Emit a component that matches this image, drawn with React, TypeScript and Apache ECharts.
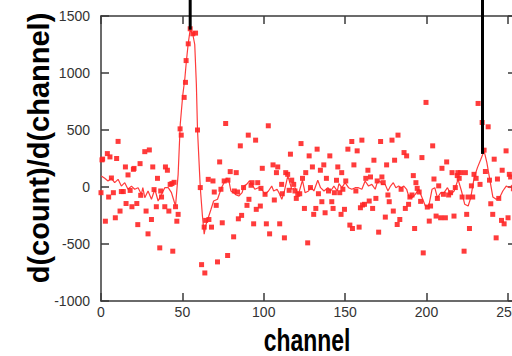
import React, { useEffect, useRef } from "react";
import * as echarts from "echarts";

const xTicks = { min: 0, max: 255, interval: 50 };
const yTicks = { min: -1000, max: 1500, interval: 500 };

const xTitle = "channel";
const yTitle = "d(count)/d(channel)";

// scatter points [channel, d(count)/d(channel)]
const rawPoints: number[][] = [
  [0.0,-50],[0.6,238],[1.0,245],[2.7,-300],[3.9,293],[4.7,-88],[5.5,264],[6.4,79],[7.6,-50],[8.8,-270],
  [9.6,250],[10.5,400],[11.7,-211],[12.5,-40],[13.7,-40],[15.0,176],[15.4,-145],[16.6,106],[17.9,-30],[19.0,-173],
  [19.9,155],[20.3,163],[22.0,-145],[22.6,-330],[24.0,205],[24.4,-73],[26.9,310],[27.7,-211],[28.9,-411],[29.7,325],
  [31.0,-285],[31.8,176],[32.6,-23],[34.0,-173],[34.7,76],[36.1,-534],[36.7,-35],[37.2,-88],[39.2,-173],[39.6,176],
  [40.8,147],[41.7,-211],[42.5,23],[43.6,30],[44.1,-563],[44.9,41],[45.8,-173],[46.6,-300],[47.4,-240],[48.6,510],
  [49.3,455],[51.1,786],[51.9,918],[52.3,1109],[53.6,1256],[54.8,1388],[56.4,1344],[58.1,1350],[59.3,500],[61.0,-5],
  [61.8,-681],[63.4,-352],[63.8,-754],[64.3,-293],[65.9,67],[66.3,-285],[67.9,-352],[68.8,53],[69.6,-44],[70.8,-161],
  [71.6,-657],[72.9,220],[73.7,-20],[74.5,-314],[75.7,53],[76.6,557],[77.8,-601],[78.0,60],[79.4,135],[81.5,-437],
  [81.9,-35],[83.1,126],[83.9,-44],[84.4,-279],[85.6,361],[86.4,-249],[87.6,-5],[89.7,-161],[90.5,455],[90.9,-108],
  [92.2,15],[92.8,38],[93.8,-323],[95.0,411],[95.4,-196],[96.3,38],[97.9,-167],[98.3,-12],[99.1,164],[100.8,-64],
  [101.6,-323],[102.8,537],[103.6,-411],[105.7,194],[106.5,-114],[107.8,126],[108.6,176],[109.8,-323],[111.0,23],[111.4,-59],
  [112.7,-446],[113.5,126],[114.7,111],[115.6,-29],[116.4,288],[117.2,60],[118.4,23],[119.2,-35],[120.0,-100],[120.9,-64],
  [122.1,-59],[122.9,381],[123.8,76],[125.0,-188],[125.8,126],[127.0,-490],[127.9,273],[128.7,-5],[129.9,176],[130.7,-240],
  [132.0,-188],[132.8,332],[133.6,-59],[134.8,147],[135.7,-129],[136.9,194],[137.7,-226],[138.5,76],[139.8,-35],[140.6,273],
  [141.8,-129],[142.6,-188],[143.4,-50],[144.7,59],[145.5,176],[146.7,-50],[147.5,-240],[147.9,126],[148.6,-20],[149.6,-196],
  [150.4,53],[151.7,332],[152.9,-334],[154.1,399],[154.5,-364],[155.4,194],[156.6,-35],[157.4,317],[158.6,-352],[159.4,-182],
  [160.3,411],[160.7,-158],[161.9,-152],[162.7,76],[164.0,147],[164.8,-123],[165.6,88],[166.9,-188],[167.7,235],[168.9,-100],
  [169.7,53],[170.6,-396],[171.8,399],[172.6,88],[173.4,38],[174.7,-264],[175.5,194],[176.3,-70],[177.1,-129],[178.8,411],
  [179.6,-211],[180.4,235],[182.0,-329],[182.5,455],[183.6,-285],[184.4,-20],[186.2,302],[187.0,-188],[187.8,273],[189.0,-152],
  [189.8,-88],[191.1,-70],[191.9,100],[192.7,-364],[193.5,38],[194.3,-12],[195.5,-44],[196.4,-126],[197.2,258],[198.0,-578],
  [199.7,742],[200.5,-176],[201.7,-299],[202.5,-167],[203.8,361],[204.6,70],[205.9,-255],[206.7,-100],[207.5,10],[208.7,-270],
  [209.5,164],[210.4,-64],[211.6,-270],[212.4,220],[213.6,-70],[214.8,-50],[215.7,126],[216.9,-255],[217.7,-5],[218.9,100],
  [219.3,126],[220.1,76],[220.9,126],[221.9,-88],[223.1,-563],[223.9,126],[224.7,-240],[225.5,-88],[226.4,-364],[227.6,10],
  [228.4,-88],[229.2,111],[230.5,76],[231.7,733],[232.9,23],[234.2,566],[235.4,323],[236.2,136],[237.9,528],[238.7,60],
  [239.5,-147],[240.7,-240],[241.6,244],[242.8,-446],[243.6,70],[244.4,-100],[246.1,-293],[246.5,147],[247.7,-323],[248.9,317],
  [250.1,-270],[250.9,111],[251.7,88],[253.4,-15],[254.6,40]
];

// smoothed derivative curve [channel, value]
const smoothLine: number[][] = [
  [0.2,97],[2.3,76],[4.3,53],[6.4,76],[8.4,38],[10.5,67],[12.5,8],[14.6,38],[16.6,-20],[18.7,8],
  [20.7,-20],[22.8,-6],[24.8,-64],[25.7,-6],[26.9,-94],[28.9,-35],[31.0,-108],[33.1,-20],[35.1,-123],[37.2,-64],
  [39.2,-6],[41.3,-6],[43.3,-50],[45.8,-167],[47.4,111],[48.7,550],[50.2,800],[51.5,950],[52.5,1110],[53.6,1260],
  [54.8,1380],[56.4,1340],[57.6,1250],[58.6,900],[59.3,500],[61.0,-5],[62.3,-250],[63.4,-414],[64.5,-330],[65.9,-270],
  [67.5,-200],[69.2,-123],[71.6,-108],[74.1,-5],[76.2,53],[77.4,79],[78.6,53],[79.8,-35],[81.5,-50],[83.1,-70],
  [84.7,-79],[86.7,-50],[87.9,10],[89.5,23],[91.2,53],[92.8,23],[94.5,-20],[96.7,-6],[98.7,-20],[100.8,-64],
  [102.9,-35],[104.9,8],[106.1,-35],[108.2,-20],[109.8,-64],[111.1,-108],[112.7,-35],[114.8,97],[117.2,-20],[119.3,-6],
  [121.3,-64],[123.8,59],[125.4,-50],[127.5,-35],[129.1,0],[130.8,-35],[133.2,59],[134.9,-6],[137.0,-35],[139.4,-6],
  [141.1,-35],[143.1,8],[145.2,-35],[146.2,30],[148.0,-6],[150.0,38],[152.1,-6],[154.1,-20],[156.2,-6],[158.2,-6],
  [160.3,-20],[162.3,53],[164.4,8],[166.4,23],[168.5,-20],[169.7,38],[171.4,53],[172.6,23],[174.6,23],[176.3,-35],
  [177.9,8],[179.6,38],[181.2,-6],[182.9,8],[184.5,-6],[186.1,8],[187.8,-20],[189.4,-94],[191.1,-94],[193.1,-64],
  [195.2,-20],[197.3,-94],[199.3,-167],[201.4,-167],[203.4,-20],[205.1,-6],[206.7,-94],[208.8,-50],[210.8,-50],[212.9,-6],
  [214.9,-64],[217.0,-35],[219.4,67],[221.5,-35],[223.5,-152],[225.6,-167],[227.2,-94],[229.3,82],[231.3,170],[233.4,243],
  [235.4,317],[237.1,214],[238.7,82],[240.8,-88],[242.8,-108],[244.9,-94],[246.9,-35],[249.0,8],[251.0,-6],[253.1,23],
  [255.0,30]
];

// peak marker lines: from peak value up past the top of the plot
const peakMarker1: number[][] = [[54.8, 1380], [54.8, 1800]];
const peakMarker2: number[][] = [[234.4, 290], [234.4, 1800]];

const tickFont = "'Liberation Sans', Arial, sans-serif";

export default function App() {
  const ref = useRef<HTMLDivElement>(null);
  useEffect(() => {
    document.body.style.margin = "0";
    const chart = echarts.init(ref.current!, null, { renderer: "svg" });
    const axisLine = { show: true, onZero: false, lineStyle: { color: "#3a3a3a", width: 1.5 } };
    const tick = { show: true, inside: true, length: 8, lineStyle: { color: "#3a3a3a", width: 1.5 } };
    const fmt = (v: number) => String(v);
    const xCommon = { type: "value" as const, min: xTicks.min, max: xTicks.max, interval: xTicks.interval, splitLine: { show: false }, axisLine, axisTick: tick };
    const yCommon = { type: "value" as const, min: yTicks.min, max: yTicks.max, interval: yTicks.interval, splitLine: { show: false }, axisLine, axisTick: tick };
    chart.setOption({
      animation: false,
      backgroundColor: "#ffffff",
      grid: { left: 101, right: -4, top: 16, bottom: 55, containLabel: false, outerBoundsMode: "none" },
      xAxis: [
        { ...xCommon, position: "bottom", axisLabel: { show: true, fontSize: 14, fontFamily: tickFont, color: "#333", margin: 4, showMaxLabel: false, formatter: fmt } },
        { ...xCommon, position: "top", axisLabel: { show: false } },
      ],
      yAxis: [
        { ...yCommon, position: "left", axisLabel: { show: true, fontSize: 14, fontFamily: tickFont, color: "#333", margin: 11, formatter: fmt } },
        { ...yCommon, position: "right", axisLabel: { show: false } },
      ],
      graphic: [
        { type: "text", x: 39, y: 148, rotation: Math.PI / 2, style: { text: yTitle, fontSize: 29, fontWeight: "bold", fontFamily: "'Liberation Sans', Arial, sans-serif", fill: "#000", align: "center", verticalAlign: "middle" } },
        { type: "text", x: 307, y: 340, scaleX: 0.74, style: { text: xTitle, fontSize: 31, fontWeight: "bold", fontFamily: "'Liberation Sans', Arial, sans-serif", fill: "#000", align: "center", verticalAlign: "middle" } },
      ],
      series: [
        { type: "line", data: smoothLine, showSymbol: false, symbol: "none", lineStyle: { color: "#ff3b3b", width: 1.2 }, z: 2 },
        { type: "scatter", data: rawPoints, symbol: "rect", symbolSize: 5, itemStyle: { color: "#ff2626", opacity: 0.9 }, z: 3 },
        { type: "line", data: peakMarker1, clip: false, showSymbol: false, symbol: "none", lineStyle: { color: "#000", width: 3 }, z: 4 },
        { type: "line", data: peakMarker2, clip: false, showSymbol: false, symbol: "none", lineStyle: { color: "#000", width: 3 }, z: 4 },
      ],
    });
    return () => chart.dispose();
  }, []);
  return <div ref={ref} style={{ width: 512, height: 356 }} />;
}
